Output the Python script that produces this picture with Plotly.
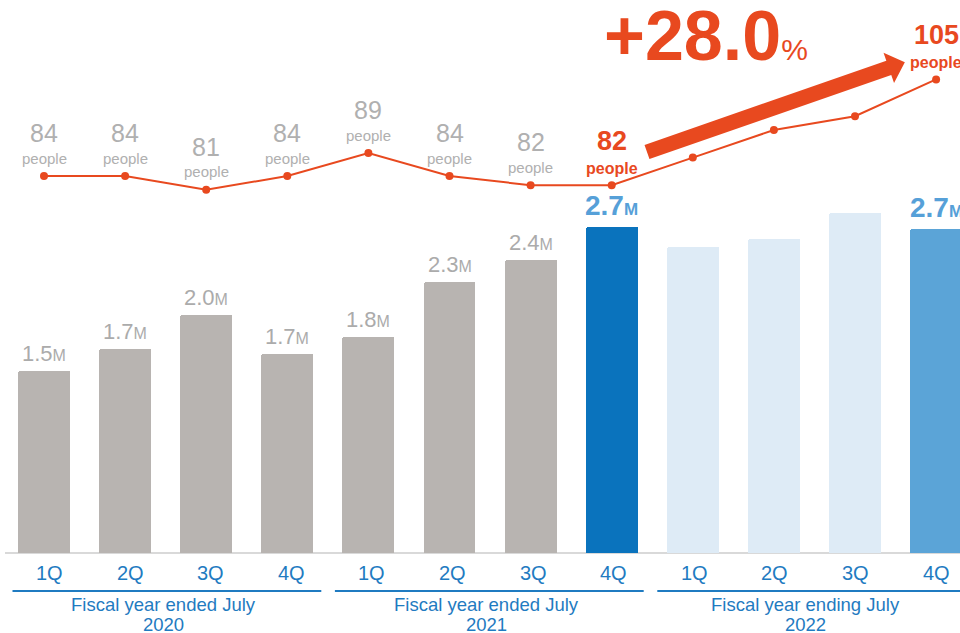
import math
import plotly.graph_objects as go

# ---- data ----
quarters = ["1Q", "2Q", "3Q", "4Q"] * 3
sales_m = [1.52, 1.70, 1.98, 1.66, 1.80, 2.26, 2.44, 2.72, 2.55, 2.62, 2.83, 2.70]
headcount = [84, 84, 81, 84, 89, 84, 82, 82, 88, 94, 97, 105]
sales_labeled = [True] * 8 + [False, False, False, True]
headcount_labeled = [True] * 8 + [False, False, False, True]
fiscal_groups = [
    ("Fiscal year ended July", "2020", 0, 3),
    ("Fiscal year ended July", "2021", 4, 7),
    ("Fiscal year ending July", "2022", 8, 11),
]
growth_text = "+28.0"

# ---- styles ----
W, H = 960, 633
FONT = "Arial, Liberation Sans, sans-serif"
GRAY_BAR = "#b8b4b1"
GRAY_TXT = "#b0b0b0"
ORANGE = "#e8491f"
BLUE_AXIS = "#1f7bc1"
bar_colors = [GRAY_BAR] * 7 + ["#0a73bd"] + ["#deebf6"] * 3 + ["#5ba4d7"]
x = list(range(len(quarters)))

px_per_unit = 81.1
x_lo = -44 / px_per_unit
x_hi = x_lo + W / px_per_unit
bar_scale = 120.0   # px per million
y_hi = 553 / bar_scale
y_lo = y_hi - H / bar_scale
hc_scale = 4.6      # px per person
y2_hi = 84 + 176 / hc_scale
y2_lo = y2_hi - H / hc_scale


def py(p):
    """pixel row -> paper y"""
    return 1 - p / H


def px(p):
    """pixel column -> paper x"""
    return p / W


fig = go.Figure()

fig.add_trace(go.Bar(
    x=x, y=sales_m, width=0.64,
    marker=dict(color=bar_colors, line=dict(width=0), cornerradius=2),
    hoverinfo="skip",
))

fig.add_trace(go.Scatter(
    x=x, y=headcount, yaxis="y2", mode="lines+markers",
    line=dict(color=ORANGE, width=2),
    marker=dict(color=ORANGE, size=8),
    hoverinfo="skip",
))

annotations = []

# bar value labels
for i, (v, show) in enumerate(zip(sales_m, sales_labeled)):
    if not show:
        continue
    if bar_colors[i] == GRAY_BAR:
        txt = f"{v:.1f}<span style='font-size:16px'>M</span>"
        font = dict(family=FONT, size=22, color="#ababab")
        shift = 3
    else:
        txt = f"<b>{v:.1f}<span style='font-size:17px'>M</span></b>"
        font = dict(family=FONT, size=28, color="#56a0d8")
        shift = 4
    annotations.append(dict(x=i, y=v, xref="x", yref="y", text=txt, showarrow=False,
                            xanchor="center", yanchor="bottom", yshift=shift, font=font))

# headcount labels
for i, (v, show) in enumerate(zip(headcount, headcount_labeled)):
    if not show:
        continue
    if i in (7, 11):
        annotations.append(dict(x=i, y=v, xref="x", yref="y2", text=f"<b>{v}</b>",
                                showarrow=False, xanchor="center", yanchor="middle", yshift=44,
                                font=dict(family=FONT, size=27, color=ORANGE)))
        annotations.append(dict(x=i, y=v, xref="x", yref="y2", text="<b>people</b>",
                                showarrow=False, xanchor="center", yanchor="middle", yshift=17,
                                font=dict(family=FONT, size=16, color=ORANGE)))
    else:
        annotations.append(dict(x=i, y=v, xref="x", yref="y2", text=f"{v}",
                                showarrow=False, xanchor="center", yanchor="middle", yshift=43,
                                font=dict(family=FONT, size=25, color=GRAY_TXT)))
        annotations.append(dict(x=i, y=v, xref="x", yref="y2", text="people",
                                showarrow=False, xanchor="center", yanchor="middle", yshift=18,
                                font=dict(family=FONT, size=15, color=GRAY_TXT)))

# quarter labels under the baseline (evenly spread on their own grid)
lbl_first, lbl_step = 49.5, 80.6


def label_x(i):
    return lbl_first + lbl_step * i


for i, q in enumerate(quarters):
    annotations.append(dict(x=px(label_x(i)), y=py(573), xref="paper",
                            yref="paper", text=q, showarrow=False,
                            xanchor="center", yanchor="middle",
                            font=dict(family=FONT, size=20, color=BLUE_AXIS)))

shapes = []
# baseline
shapes.append(dict(type="line", xref="paper", yref="paper", x0=px(5), x1=1,
                   y0=py(553), y1=py(553), line=dict(color="#d9d9d9", width=2), layer="below"))

# fiscal-year brackets and titles
for title, year, a, b in fiscal_groups:
    x0, x1 = label_x(a) - 37, min(label_x(b) + 30, W)
    shapes.append(dict(type="line", xref="paper", yref="paper", x0=px(x0), x1=px(x1),
                       y0=py(591), y1=py(591), line=dict(color=BLUE_AXIS, width=2)))
    xc = (x0 + x1) / 2 - 3
    for txt, row in ((title, 604), (year, 624)):
        annotations.append(dict(x=px(xc), y=py(row), xref="paper", yref="paper",
                                text=txt, showarrow=False, xanchor="center", yanchor="middle",
                                font=dict(family=FONT, size=18.5, color=BLUE_AXIS)))

# growth arrow (filled polygon)
tx, ty = 647.0, 152.0
ang = math.atan2(84, 241.5)
ux, uy = math.cos(ang), -math.sin(ang)
nx, ny = math.sin(ang), math.cos(ang)
body, half_w, head_half, head_len = 256, 7.5, 16, 17
pts = [
    (tx - nx * half_w, ty - ny * half_w),
    (tx + ux * body - nx * half_w, ty + uy * body - ny * half_w),
    (tx + ux * body - nx * head_half, ty + uy * body - ny * head_half),
    (tx + ux * (body + head_len), ty + uy * (body + head_len)),
    (tx + ux * body + nx * head_half, ty + uy * body + ny * head_half),
    (tx + ux * body + nx * half_w, ty + uy * body + ny * half_w),
    (tx + nx * half_w, ty + ny * half_w),
]
path = "M " + " L ".join(f"{px(a):.5f},{py(b):.5f}" for a, b in pts) + " Z"
shapes.append(dict(type="path", xref="paper", yref="paper", path=path,
                   fillcolor=ORANGE, line=dict(width=0)))

annotations.append(dict(x=px(706), y=py(36), xref="paper", yref="paper",
                        text=f"<b>{growth_text}</b><span style='font-size:30px'>%</span>",
                        showarrow=False, yanchor="middle", xanchor="center",
                        font=dict(family=FONT, size=70, color=ORANGE)))

fig.update_layout(
    width=W, height=H,
    margin=dict(l=0, r=0, t=0, b=0),
    paper_bgcolor="white", plot_bgcolor="white",
    showlegend=False, hovermode=False,
    xaxis=dict(range=[x_lo, x_hi], visible=False, fixedrange=True),
    yaxis=dict(range=[y_lo, y_hi], visible=False, fixedrange=True),
    yaxis2=dict(range=[y2_lo, y2_hi], overlaying="y", visible=False, fixedrange=True),
    annotations=annotations,
    shapes=shapes,
    bargap=0,
)

fig.write_html("out.html", config={"displayModeBar": False})
